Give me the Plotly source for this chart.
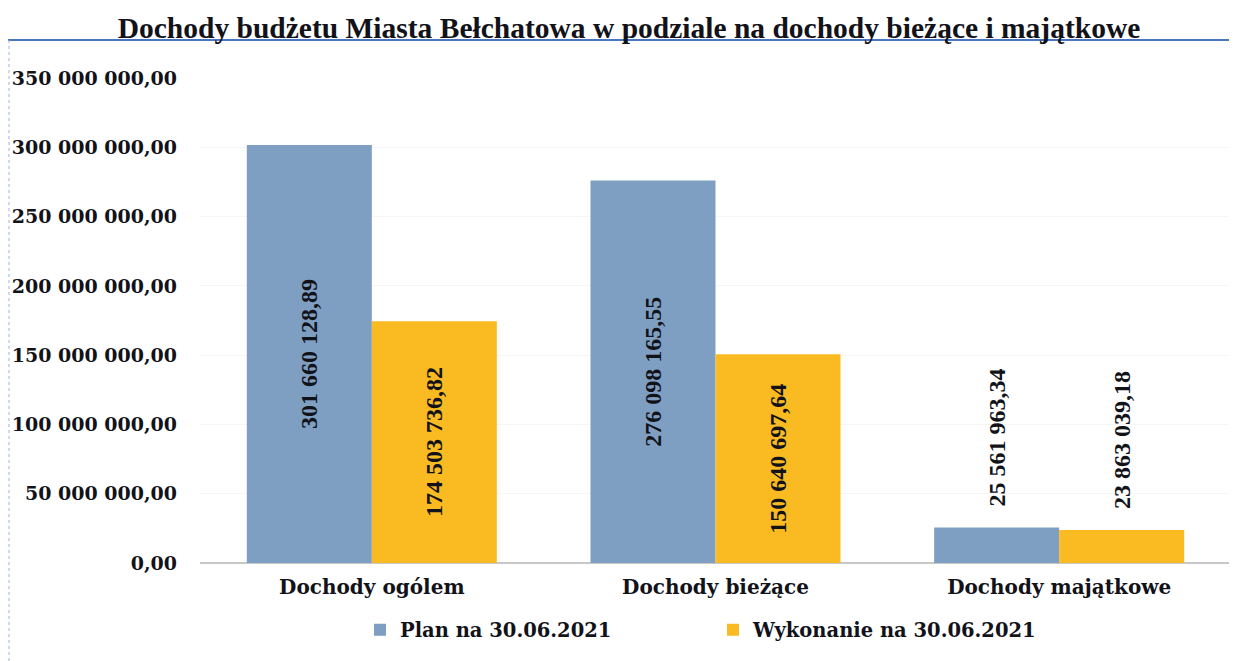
import plotly.graph_objects as go

categories = ["Dochody ogólem", "Dochody bieżące", "Dochody majątkowe"]
plan_values = [301660128.89, 276098165.55, 25561963.34]
exec_values = [174503736.82, 150640697.64, 23863039.18]
series_names = ["Plan na 30.06.2021", "Wykonanie na 30.06.2021"]
title_text = "Dochody budżetu Miasta Bełchatowa w podziale na dochody bieżące i majątkowe"
tick_values = [0, 50e6, 100e6, 150e6, 200e6, 250e6, 300e6, 350e6]

BLUE = "#7E9FC2"
YELLOW = "#F9BA22"
TXT = "#121219"
SERIF = "Liberation Serif"
WIDE = "DejaVu Serif"

W, H = 1237, 661
OFF = 8  # page body margin
# plot area in screen pixels
SX0, SX1, SY0, SY1 = 200, 1231, 78, 563
L = SX0 - OFF
R = W - (SX1 - OFF)
T = SY0 - OFF
B = H - (SY1 - OFF)
pw, ph = W - L - R, H - T - B

def px_x(sx):
    return (sx - OFF - L) / pw

def px_y(sy):
    return (H - B - (sy - OFF)) / ph

positions = ["inside", "inside", "outside"]
templates = ["%{y:,.2f}", "%{y:,.2f}", "\u00a0\u00a0\u00a0%{y:,.2f}"]

fig = go.Figure()
for name, vals, col in [(series_names[0], plan_values, BLUE), (series_names[1], exec_values, YELLOW)]:
    fig.add_trace(go.Bar(
        x=categories, y=vals, name=name,
        marker=dict(color=col, line=dict(width=0)),
        texttemplate=templates,
        textposition=positions,
        textangle=-90,
        insidetextanchor="middle",
        constraintext="none",
        textfont=dict(family=SERIF, size=24, color=TXT, weight="bold"),
        cliponaxis=False,
    ))

fig.update_layout(
    width=W, height=H,
    margin=dict(l=L, r=R, t=T, b=B, autoexpand=False),
    paper_bgcolor="white", plot_bgcolor="white",
    separators=", ",
    barmode="group", bargap=0.2725, bargroupgap=0,
    title=dict(text=title_text, x=(629 - OFF) / W, xanchor="center", y=1 - (28 - OFF) / H, yanchor="middle",
               font=dict(family=SERIF, size=29.5, color=TXT, weight="bold")),
    xaxis=dict(showgrid=False, showline=False, ticks="", ticklabelstandoff=10,
               tickfont=dict(family=WIDE, size=20, color=TXT, weight="bold")),
    yaxis=dict(range=[0, 350e6], tickvals=tick_values, tickformat=",.2f",
               showgrid=True, gridcolor="#f6f6f6", gridwidth=1,
               zeroline=True, zerolinecolor="#c8c8c8", zerolinewidth=1.5,
               showline=False, ticks="", ticklabelstandoff=22,
               tickfont=dict(family=WIDE, size=19, color=TXT, weight="bold")),
    legend=dict(orientation="h", x=px_x(360), xanchor="left", y=px_y(630), yanchor="middle",
                font=dict(family=WIDE, size=19.5, color=TXT, weight="bold"),
                entrywidth=308, entrywidthmode="pixels", bgcolor="rgba(0,0,0,0)"),
    showlegend=True,
    shapes=[
        dict(type="line", xref="paper", yref="paper", x0=px_x(OFF), x1=px_x(W + OFF), y0=px_y(40), y1=px_y(40),
             line=dict(color="#4a76c0", width=2)),
        dict(type="line", xref="paper", yref="paper", x0=px_x(OFF + 1), x1=px_x(OFF + 1), y0=px_y(40), y1=px_y(H + OFF),
             line=dict(color="#9fb3dc", width=1, dash="dot")),
    ],
)

fig.write_html("out.html")
